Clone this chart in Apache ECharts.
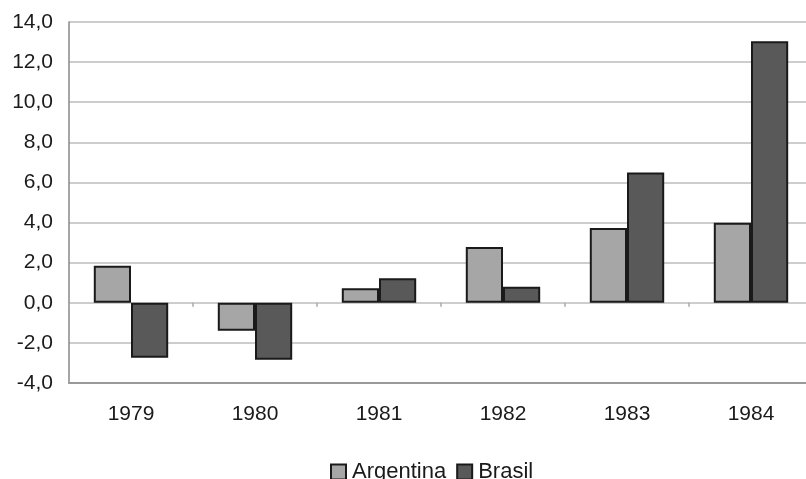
<!DOCTYPE html>
<html>
<head>
<meta charset="utf-8">
<script src="https://cdn.jsdelivr.net/npm/echarts@6/dist/echarts.min.js"></script>
<style>
  html, body { margin: 0; padding: 0; background: #fff; }
  #chart { width: 806px; height: 479px; }
</style>
</head>
<body>
<div id="chart"></div>
<script>
const years = ['1979', '1980', '1981', '1982', '1983', '1984']
const argentina = [1.85, -1.4, 0.73, 2.78, 3.73, 3.99]
const brasil = [-2.74, -2.84, 1.22, 0.8, 6.5, 13.04]
const yTicks = { min: -4, max: 14, interval: 2 }

const chart = echarts.init(document.getElementById('chart'))
const font = 'Liberation Sans, Arial, sans-serif'

chart.setOption({
  animation: false,
  grid: { left: 69, width: 744, top: 22, bottom: 96, outerBoundsMode: 'none' },
  legend: {
    data: ['Argentina', 'Brasil'],
    left: 325,
    top: 456,
    itemWidth: 15,
    itemHeight: 15,
    itemGap: 10,
    icon: 'rect',
    textStyle: { fontFamily: font, fontSize: 22, color: '#1a1a1a', padding: [0, 0, 0, 1] }
  },
  xAxis: [
    {
      type: 'category',
      data: years,
      position: 'bottom',
      axisLine: { onZero: false, lineStyle: { color: '#999', width: 2 } },
      axisTick: { show: false },
      axisLabel: { fontFamily: font, fontSize: 21, color: '#1a1a1a', margin: 21 }
    },
    {
      type: 'category',
      data: years,
      position: 'bottom',
      axisLine: { show: false, onZero: true },
      axisTick: { show: true, length: 4, lineStyle: { color: '#aaa', width: 1.5 } },
      axisLabel: { show: false }
    }
  ],
  yAxis: {
    type: 'value',
    min: yTicks.min,
    max: yTicks.max,
    interval: yTicks.interval,
    axisLine: { show: true, lineStyle: { color: '#888', width: 1.5 } },
    axisTick: { show: false },
    splitLine: { lineStyle: { color: '#bdbdbd', width: 1.5 } },
    axisLabel: {
      fontFamily: font,
      fontSize: 21,
      color: '#1a1a1a',
      margin: 16,
      formatter: v => v.toFixed(1).replace('.', ',')
    }
  },
  series: [
    {
      name: 'Argentina',
      type: 'bar',
      data: argentina,
      barGap: '0%',
      barCategoryGap: '40%',
      itemStyle: { color: '#a6a6a6', borderColor: '#1a1a1a', borderWidth: 2 }
    },
    {
      name: 'Brasil',
      type: 'bar',
      data: brasil,
      barGap: '0%',
      barCategoryGap: '40%',
      itemStyle: { color: '#595959', borderColor: '#1a1a1a', borderWidth: 2 }
    }
  ]
})
</script>
</body>
</html>
